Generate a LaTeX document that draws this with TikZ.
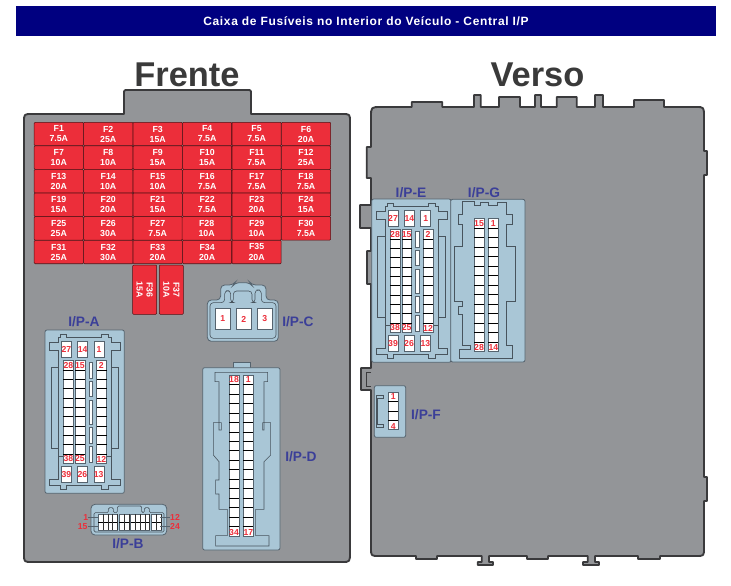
\documentclass[tikz,border=0pt]{standalone}
\usepackage{fontspec}
\setmainfont{Liberation Sans}
\definecolor{boxgray}{HTML}{939598}
\definecolor{boxedge}{HTML}{3A3A3C}
\definecolor{connblue}{HTML}{A9C6D6}
\definecolor{connedge}{HTML}{55636E}
\definecolor{fusered}{HTML}{EC2E3A}
\definecolor{pinred}{HTML}{EC2E3A}
\definecolor{labelblue}{HTML}{3B3F98}
\definecolor{headblue}{HTML}{000080}
\definecolor{headgray}{HTML}{3A3A3A}
\tikzset{
  housing/.style={fill=boxgray,draw=boxedge,line width=1.4pt,line join=round},
  outerconn/.style={fill=connblue,draw=connedge,line width=.6pt,rounded corners=1.5pt},
  innerline/.style={draw=connedge!85!black,line width=.45pt,line join=miter},
  fuse/.style={fill=fusered,draw=black!65!fusered,line width=.4pt,rounded corners=.7pt,
    text=white,font=\fontsize{6.6}{7.5}\selectfont\bfseries,align=center,inner sep=0pt,
    minimum width=36.9pt,minimum height=17.6pt},
  fusev/.style={fuse,rotate=-90,minimum width=36.9pt,minimum height=18pt},
  pinlabel/.style={text=pinred,font=\fontsize{6.5}{6.5}\selectfont\bfseries,inner sep=0pt},
  iplabel/.style={text=labelblue,font=\fontsize{10.3}{11}\selectfont\bfseries,inner sep=0pt},
  heading/.style={text=headgray,font=\fontsize{25.8}{28}\selectfont\bfseries,inner sep=0pt},
  titletext/.style={text=white,font=\fontsize{9}{10}\selectfont\bfseries\addfontfeature{LetterSpace=5.4},inner sep=0pt},
  pinframe/.style={fill=white,draw=connedge,line width=.6pt},
  pinrow/.style={draw=black,line width=.4pt},
  slot/.style={fill=white,draw=connedge,line width=.5pt},
  zoomA/.style={shift={(30,320)},x=.25pt,y=-.25pt},
  zoomE/.style={shift={(356.7,189)},x=.25pt,y=-.25pt},
  zoomD/.style={shift={(190,280)},x=.25pt,y=-.25pt},
  zoomG/.style={shift={(350,180)},x=.25pt,y=-.25pt}
}
% column of pins: x1, x2, ytop, rowheight, rows
\newcommand\pincol[5]{%
  \pgfmathsetmacro\ybot{#3+#4*#5}
  \path[pinframe] (#1,#3) rectangle (#2,\ybot);
  \foreach \r in {1,...,#5}{
    \pgfmathsetmacro\yy{#3+#4*\r}
    \ifnum\r<#5 \draw[pinrow] (#1,\yy) -- (#2,\yy);\fi
  }}
\newcommand\connAE[1]{%
  \path[outerconn] (45,30) rectangle (283,520);
  \draw[innerline] (85,52) -- (92,52) -- (92,43) -- (110,43) -- (110,52) -- (215,52) -- (215,43) -- (235,43) -- (235,52) -- (245,52) -- (245,68) -- (272,68) -- (272,92) -- (245,92) -- (245,478) -- (272,478) -- (272,497) -- (235,497) -- (235,507) -- (215,507) -- (215,497) -- (110,497) -- (110,507) -- (92,507) -- (92,497) -- (58,497) -- (58,478) -- (85,478) -- (85,92) -- (58,92) -- (58,68) -- (85,68) -- cycle;
  \draw[innerline] (85,143) -- (63,143) -- (63,385) -- (85,385);
  \draw[innerline] (85,410) -- (100,410);
  \draw[innerline] (245,143) -- (266,143) -- (266,385) -- (245,385);
  \draw[innerline] (245,410) -- (230,410);
  \foreach \x in {94,142,192}{
    \path[pinframe] (\x,63) rectangle (\x+30,113);
    \path[pinframe] (\x,438) rectangle (\x+30,488);}
  \pincol{100}{130}{122}{28}{11}
  \pincol{136}{165}{122}{28}{11}
  \pincol{200}{230}{122}{28}{11}
  \foreach \a/\b in {127/175,184/230,240/312,322/371,380/428}{
    \path[slot] (177,\a) rectangle (187,\b);}
  \foreach \n/\x/\y in {27/109/88,14/158/88,1/207/88,28/115/136,15/150/136,2/214/137,38/115/417,25/150/417,12/214/417,39/109/463,26/157/463,13/206/463}{
    \node[pinlabel] (#1-\n) at (\x,\y) {\n};}
}
\begin{document}
\begin{tikzpicture}[x=.75pt,y=-.75pt]
\useasboundingbox (0,0) rectangle (731,585);
\fill[white] (0,0) rectangle (731,585);
% title
\fill[headblue] (16,6) rectangle (716,36);
\node[titletext] (title) at (366,21) {Caixa de Fusíveis no Interior do Veículo - Central I/P};
\node[heading] (frente) at (187,75) {Frente};
\node[heading] (verso) at (537.5,75) {Verso};
% front housing
\draw[housing] (24,122) .. controls (24,114) .. (32,114) -- (124,114) -- (124,94) .. controls (124,90) .. (128,90) -- (247,90) .. controls (251,90) .. (251,94) -- (251,114) -- (342,114) .. controls (350,114) .. (350,122) -- (350,552) .. controls (350,562) .. (342,562) -- (32,562) .. controls (24,562) .. (24,554) -- cycle;
% fuses
\foreach \n/\c/\r/\a in {1/0/0/7.5A,2/1/0/25A,3/2/0/15A,4/3/0/7.5A,5/4/0/7.5A,6/5/0/20A,
 7/0/1/10A,8/1/1/10A,9/2/1/15A,10/3/1/15A,11/4/1/7.5A,12/5/1/25A,
 13/0/2/20A,14/1/2/10A,15/2/2/10A,16/3/2/7.5A,17/4/2/7.5A,18/5/2/7.5A,
 19/0/3/15A,20/1/3/20A,21/2/3/15A,22/3/3/7.5A,23/4/3/20A,24/5/3/15A,
 25/0/4/25A,26/1/4/30A,27/2/4/7.5A,29/4/4/10A,30/5/4/7.5A,
 31/0/5/25A,32/1/5/30A,33/2/5/20A,34/3/5/20A}{
  \pgfmathsetmacro\fx{58.8+49.45*\c}
  \pgfmathsetmacro\fy{134+23.6*\r}
  \node[fuse] (F\n) at (\fx,\fy) {F\n\\\a};
}
\node[fuse] (F28) at (206.65,228.4) {\raisebox{-1pt}{F28}\\[.3pt]\raisebox{-1pt}{10A}};
\node[fuse] (F35) at (256.6,252) {\raisebox{-1pt}{F35}\\[.3pt]\raisebox{-1pt}{20A}};
\node[fusev] (F36) at (144.7,289.7) {F36\\15A};
\node[fusev] (F37) at (171.3,289.7) {F37\\10A};
% I/P-A
\begin{scope}[zoomA]
\connAE{A}
\end{scope}
\node[iplabel] (labA) at (84,322) {I/P-A};
% I/P-B
\begin{scope}[zoomA]
\path[outerconn,rounded corners=3pt] (183,553) rectangle (410,645);
\draw[innerline,rounded corners=1pt] (192,578) -- (235,578) -- (235,563) -- (250,563) -- (250,578) -- (262,578) -- (262,558) -- (335,558) -- (335,578) -- (343,578) -- (343,563) -- (358,563) -- (358,578) -- (402,578) -- (402,636) -- (192,636) -- cycle;
\foreach \xa/\n in {205/4,268/2,302/4,365/2}{
  \pgfmathsetmacro\xb{\xa+14.2*\n}
  \path[fill=white,draw=connedge,line width=.45pt] (\xa,583) rectangle (\xb,630);
  \draw[black,line width=.4pt] (\xa,606.5) -- (\xb,606.5);
  \foreach \k in {1,...,\n}{
    \pgfmathsetmacro\xc{\xa+14.2*\k}
    \draw[black!80,line width=.45pt] (\xc,583) -- (\xc,630);}
}
\node[pinlabel] (b1) at (167,593) {1};
\node[pinlabel] (b15) at (158,620) {15};
\node[pinlabel] (b12) at (435,593) {12};
\node[pinlabel] (b24) at (435,620) {24};
\coordinate (b1e) at (207,593);
\coordinate (b15e) at (207,620);
\coordinate (b12e) at (390,593);
\coordinate (b24e) at (390,620);
\draw[connedge,line width=.5pt] (b1) -- (b1e);
\draw[connedge,line width=.5pt] (b15) -- (b15e);
\draw[connedge,line width=.5pt] (b12) -- (b12e);
\draw[connedge,line width=.5pt] (b24) -- (b24e);
\end{scope}
\node[iplabel] (labB) at (128,544) {I/P-B};
% I/P-C
\begin{scope}[zoomD]
\path[fill=connblue,draw=connedge,line width=.6pt,rounded corners=3pt] (52,184) -- (52,60) -- (92,60) -- (92,15) -- (130,15) -- (135,8) -- (180,8) -- (185,15) -- (228,15) -- (228,60) -- (265,60) -- (265,184) -- cycle;
\draw[innerline,rounded corners=2.5pt] (60,175) -- (60,68) -- (104,68) -- (104,32) -- (122,32) -- (122,68) -- (130,68) -- (130,33) -- (186,33) -- (186,68) -- (195,68) -- (195,30) -- (214,30) -- (214,68) -- (258,68) -- (258,175) -- cycle;
\foreach \x/\n in {75/1,138/2,201/3}{
  \path[fill=white,draw=connedge,line width=.7pt] (\x,85) rectangle (\x+45,148);
  \node[pinlabel] (c\n) at (\x+23,117) {\n};}
\end{scope}
\node[iplabel] (labC) at (298,322) {I/P-C};
% I/P-D
\begin{scope}[zoomD]
\path[fill=connblue,draw=connedge,line width=.6pt] (130,247) rectangle (182,265);
\path[outerconn] (38,263) rectangle (270,810);
\draw[innerline] (75,277) -- (233,277) -- (233,305) -- (222,305) -- (222,450) -- (218,450) -- (218,428) -- (242,428) -- (242,525) -- (222,545) -- (222,688) -- (197,688) -- (197,767) -- (237,767) -- (237,798) -- (77,798) -- (77,767) -- (112,767) -- (112,688) -- (87,688) -- (87,642) -- (77,642) -- (77,600) -- (87,600) -- (87,545) -- (70,525) -- (70,428) -- (94,428) -- (94,450) -- (87,450) -- (87,305) -- (75,305) -- cycle;
\pincol{118}{148}{285}{28.4}{17}
\pincol{160}{190}{285}{28.4}{17}
\foreach \n/\x/\y in {18/132/298,1/175/298,34/132/757,17/175/757}{
  \node[pinlabel] (d\n) at (\x,\y) {\n};}
\end{scope}
\node[iplabel] (labD) at (301,457) {I/P-D};
% rear housing
\draw[housing] (371,117) .. controls (371,107) .. (381,107) -- (411.7,107) -- (411.7,102) -- (442.3,102) -- (442.3,107) -- (474,107) -- (474,95) -- (480.7,95) -- (480.7,107) -- (499,107) -- (499,97) -- (520,97) -- (520,107) -- (535,107) -- (535,95) -- (541,95) -- (541,107) -- (556.7,107) -- (556.7,97) -- (576.7,97) -- (576.7,107) -- (595,107) -- (595,95) -- (603,95) -- (603,107) -- (634,107) -- (634,100) -- (664,100) -- (664,107) -- (696,107) .. controls (704,107) .. (704,117) -- (704,151) -- (707,151) -- (707,175) -- (704,175) -- (704,477) -- (707,477) -- (707,501) -- (704,501) -- (704,548) .. controls (704,556) .. (696,556) -- (660,556) -- (660,559) -- (638,559) -- (638,556) -- (595,556) -- (595,562) -- (599,562) -- (599,565) -- (583,565) -- (583,562) -- (587.7,562) -- (587.7,556) -- (548,556) -- (548,559) -- (527,559) -- (527,556) -- (489,556) -- (489,562) -- (493,562) -- (493,565) -- (477.7,565) -- (477.7,562) -- (481.7,562) -- (481.7,556) -- (437,556) -- (437,559) -- (416,559) -- (416,556) -- (379,556) .. controls (371,556) .. (371,548) -- (371,390) -- (361,390) -- (361,368) -- (371,368) -- (371,284) -- (367,284) -- (367,251) -- (371,251) -- (371,228) -- (360,228) -- (360,205) -- (371,205) -- (371,178) -- (366.7,178) -- (366.7,147) -- (371,147) -- cycle;
\coordinate (n1) at (371,372);
\coordinate (n2) at (366,372);
\coordinate (n3) at (366,386);
\coordinate (n4) at (371,386);
\draw[boxedge,line width=.7pt] (n1) -- (n2) -- (n3) -- (n4);
% I/P-E
\begin{scope}[zoomE]
\connAE{E}
\end{scope}
\node[iplabel] (labE) at (411,193) {I/P-E};
% I/P-G
\begin{scope}[zoomG]
\path[outerconn] (302,58) rectangle (525,546);
\draw[innerline] (338,65) -- (373,65) -- (373,77) -- (392,77) -- (392,68) -- (415,68) -- (415,77) -- (442,77) -- (442,68) -- (470,68) -- (470,103) -- (487,103) -- (487,132) -- (470,132) -- (470,200) -- (497,200) -- (497,365) -- (470,365) -- (470,497) -- (487,497) -- (487,535) -- (327,535) -- (327,507) -- (362,507) -- (362,497) -- (338,497) -- (338,402) -- (325,402) -- (325,378) -- (338,378) -- (338,365) -- (313,365) -- (313,200) -- (338,200) -- (338,132) -- (325,132) -- (325,103) -- (338,103) -- cycle;
\pincol{373}{403}{115}{28.5}{14}
\pincol{415}{445}{115}{28.5}{14}
\foreach \n/\x/\y in {15/387/130,1/430/130,28/387/502,14/430/502}{
  \node[pinlabel] (g\n) at (\x,\y) {\n};}
\end{scope}
\node[iplabel] (labG) at (484,193) {I/P-G};
% I/P-F
\begin{scope}[zoomG]
\path[outerconn] (73,617) rectangle (167,772);
\draw[innerline] (78,645) -- (100,645) -- (100,655) -- (82,655) -- (82,732) -- (100,732) -- (100,742) -- (78,742) -- cycle;
\pincol{115}{145}{637}{28}{4}
\foreach \n/\y in {1/651,4/739}{
  \node[pinlabel] (f\n) at (130,\y) {\n};}
\end{scope}
\node[iplabel] (labF) at (426,415) {I/P-F};
\end{tikzpicture}
\end{document}
